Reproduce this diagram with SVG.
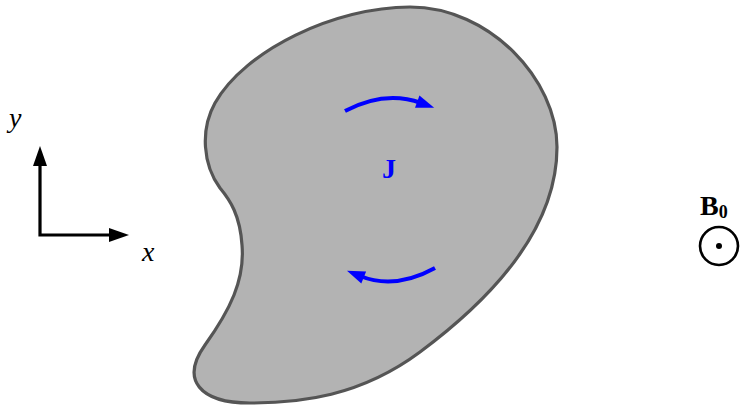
<svg xmlns="http://www.w3.org/2000/svg" width="741" height="405" viewBox="0 0 741 405">
<style>
.axis{fill:none;stroke:#000;stroke-width:3.2;stroke-linejoin:miter}
.cur{fill:none;stroke:#0000ff;stroke-width:4}
</style>
<defs>
<marker id="ah" markerUnits="userSpaceOnUse" markerWidth="24" markerHeight="16" viewBox="0 -8 22 16" refX="2" refY="0" orient="auto-start-reverse">
<path d="M0,-7 L20,0 L0,7 z" fill="#000"/>
</marker>
<marker id="bh" markerUnits="userSpaceOnUse" markerWidth="22" markerHeight="16" viewBox="0 -8 20 16" refX="4" refY="0" orient="auto">
<path d="M0,-6.5 L18,0 L0,6.5 z" fill="#0000ff"/>
</marker>
</defs>
<g id="body">
<path d="M 410 7 C 490 7, 557 80, 557 147 C 557 230, 490 300, 420 352 C 360 396.6, 300 403, 250 403 C 200 403, 180 380, 205 345 C 230 310, 245 280, 242 245 C 240 215, 230 200, 220 188 C 203 165, 200 130, 215 103 C 245 50, 335 7, 410 7 Z" fill="#b3b3b3" stroke="#555" stroke-width="3.2"/>
</g>
<g id="axes">
<path class="axis" d="M 40 164 L 40 235 L 111 235" marker-start="url(#ah)" marker-end="url(#ah)"/>
<text x="9" y="127" font-family="Liberation Serif, DejaVu Serif, serif" font-size="28" font-style="italic">y</text>
<text x="142" y="261" font-family="Liberation Serif, DejaVu Serif, serif" font-size="28" font-style="italic">x</text>
</g>
<g id="connectors">
<path class="cur" d="M 345 111 Q 385 90 421 103" marker-end="url(#bh)"/>
<path class="cur" d="M 435 268 Q 395 290 360 276" marker-end="url(#bh)"/>
</g>
<g id="J">
<text x="389" y="178" text-anchor="middle" fill="#0000ff" font-family="Liberation Serif, DejaVu Serif, serif" font-size="28" font-weight="bold">J</text>
</g>
<g id="B0">
<text x="700" y="215" font-family="Liberation Serif, DejaVu Serif, serif" font-size="28" font-weight="bold">B<tspan font-size="18" dy="3">0</tspan></text>
<circle cx="719" cy="246" r="19" fill="none" stroke="#000" stroke-width="2.6"/>
<circle cx="719" cy="246" r="3" fill="#000"/>
</g>
</svg>
